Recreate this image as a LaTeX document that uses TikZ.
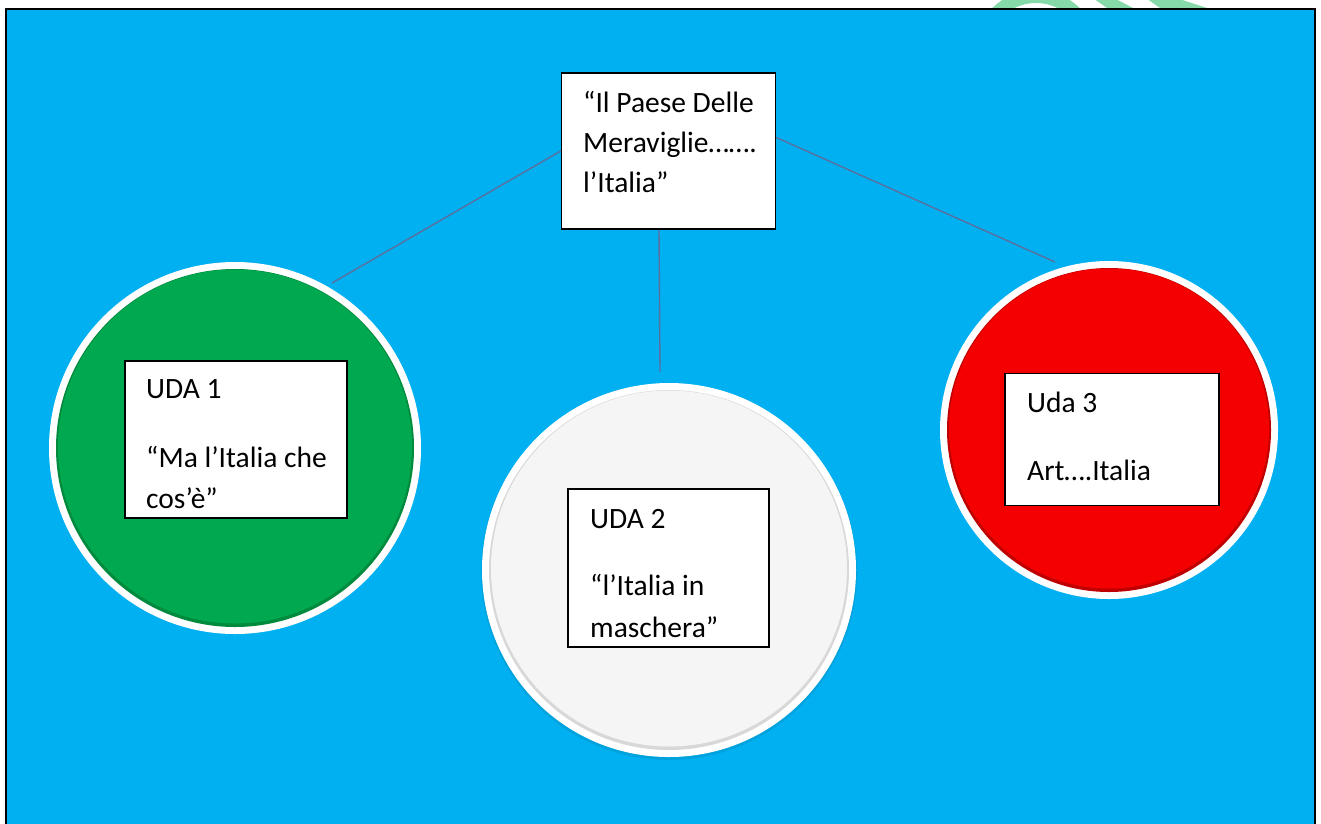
\documentclass[tikz,border=0pt]{standalone}
\usepackage{fontspec}
\setmainfont{Carlito}
\definecolor{bg}{HTML}{00B0F0}
\definecolor{ugreen}{HTML}{00A84F}
\definecolor{ugreendk}{HTML}{008A3E}
\definecolor{ured}{HTML}{F50000}
\definecolor{ureddk}{HTML}{C00000}
\definecolor{uwhite}{HTML}{F5F5F5}
\definecolor{uwhitedk}{HTML}{D8D8D8}
\definecolor{conncol}{HTML}{5A6FA0}
\definecolor{wm}{HTML}{86D9A8}
\tikzset{
  box/.style={draw=black, line width=1.6pt, fill=white, rectangle, inner sep=0pt},
  txt/.style={anchor=base west, inner sep=0pt, font=\fontsize{29.5}{35}\selectfont},
  conn/.style={draw=conncol, line width=1.4pt},
  disc/.style={circle, inner sep=0pt, fill=white},
}
\begin{document}
\begin{tikzpicture}[x=1pt,y=-1pt]
\useasboundingbox (0,0) rectangle (1321,823);
\fill[white] (0,0) rectangle (1321,823);
% watermark fragment above the frame
\begin{scope}
  \clip (0,0) rectangle (1321,9);
  \draw[wm, line width=13pt] (1036,52) circle[radius=55.5];
  \fill[wm] (1090,-4) -- (1110,-4) -- (1133,8) -- (1107,8) -- cycle;
  \fill[wm] (1143,-4) -- (1170,-4) -- (1207,8) -- (1160,8) -- cycle;
\end{scope}
% frame
\draw[black, line width=2pt, fill=bg] (6,8.5) rectangle (1315,830);

% circles
\node[disc, minimum size=372] (c1) at (235,448) {};
\fill[ugreendk] (c1.center) circle[radius=179];
\fill[ugreen] ([yshift=1.5pt]c1.center) circle[radius=177];

\fill[black, opacity=0.08] (669,572) circle[radius=188];
\node[disc, minimum size=374] (c2) at (669,570) {};
\fill[uwhitedk] (c2.center) circle[radius=180];
\fill[uwhite] ([yshift=1.5pt]c2.center) circle[radius=178];

\node[disc, minimum size=338] (c3) at (1109,430) {};
\fill[ureddk] (c3.center) circle[radius=162];
\fill[ured] ([yshift=1.5pt]c3.center) circle[radius=160];

% top box
\node[box, minimum width=214, minimum height=156] (top) at (668.5,151) {};
\node[txt] (t1) at (583,112) {“Il Paese Delle};
\node[txt] (t2) at (583,152) {Meraviglie…….};
\node[txt] (t3) at (583,192) {l’Italia”};

% boxes inside circles
\node[box, minimum width=222, minimum height=157] (b1) at (236,439.5) {};
\node[txt] (b1a) at (146,398) {UDA 1};
\node[txt] (b1b) at (146,467) {“Ma l’Italia che};
\node[txt] (b1c) at (146,508) {cos’è”};

\node[box, minimum width=201, minimum height=158] (b2) at (668.5,568) {};
\node[txt] (b2a) at (590,528) {UDA 2};
\node[txt] (b2b) at (590,595) {“l’Italia in};
\node[txt] (b2c) at (590,637) {maschera”};

\node[box, minimum width=214, minimum height=132] (b3) at (1112,439.5) {};
\node[txt] (b3a) at (1027,412) {Uda 3};
\node[txt] (b3b) at (1027,480) {Art….Italia};

% connectors
\coordinate (e1) at (332,283);
\coordinate (e2) at (660,372);
\coordinate (e3) at (1055,262);
\draw[conn] (top.west) -- (e1);
\draw[conn] ([xshift=-9.5pt]top.south) -- (e2);
\draw[conn] ([yshift=13.5pt]top.east) -- (e3);
\end{tikzpicture}
\end{document}
